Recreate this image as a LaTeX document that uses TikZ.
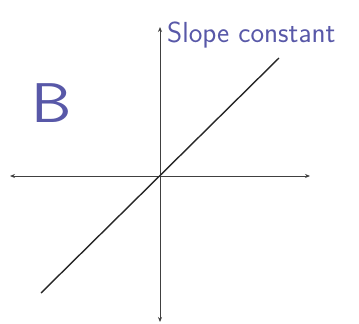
\documentclass[tikz,border=0pt]{standalone}
\usetikzlibrary{arrows.meta}
\definecolor{ink}{RGB}{88,88,168}
\tikzset{
  axis/.style={draw=black!75, line width=0.9pt, {Stealth[length=5pt,width=4pt]}-{Stealth[length=5pt,width=4pt]}},
  graphline/.style={draw=black!85, line width=1.4pt},
  hand/.style={text=ink, font=\sffamily\fontsize{29}{29}\selectfont, inner sep=0pt}
}
\begin{document}
\begin{tikzpicture}[x=1pt,y=-1pt]
\useasboundingbox (0,0) rectangle (359,324);
\coordinate (xl) at (10,176);
\coordinate (xr) at (310,176);
\coordinate (yt) at (160,27);
\coordinate (yb) at (160,322);
\coordinate (ls) at (41,293);
\coordinate (le) at (279,58);
\draw[axis] (xl) -- (xr);
\draw[axis] (yt) -- (yb);
\draw[graphline] (ls) -- (le);
\node[hand, anchor=base west] (title) at (167,42) {Slope constant};
\node[hand, font=\sffamily\fontsize{56}{56}\selectfont, anchor=base west, xscale=1.15] (lab) at (31,122) {B};
\end{tikzpicture}
\end{document}
